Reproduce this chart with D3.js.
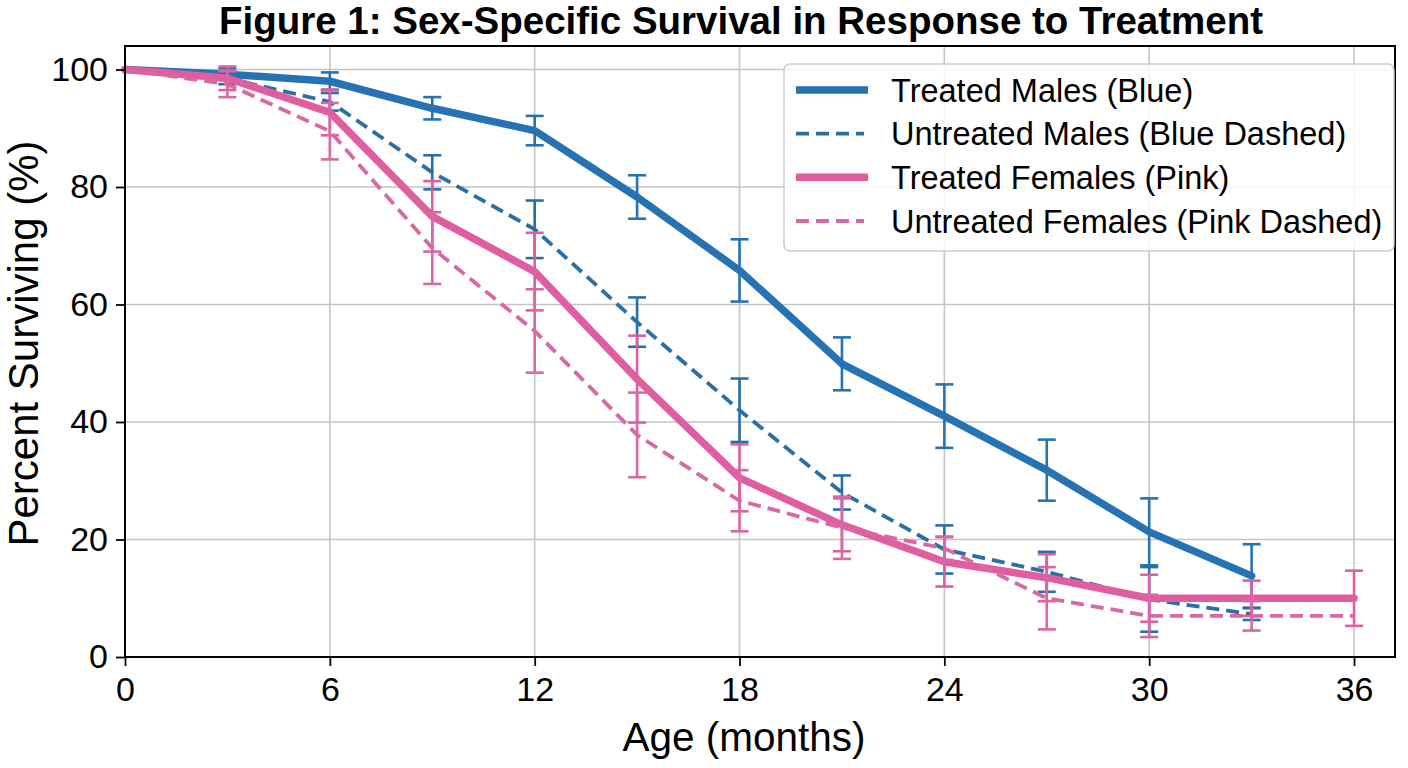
<!DOCTYPE html>
<html>
<head>
<meta charset="utf-8">
<script src="https://cdn.jsdelivr.net/npm/d3@7"></script>
<style>
  html, body { margin: 0; padding: 0; background: #ffffff; }
  svg { display: block; font-family: "Liberation Sans", Arial, Helvetica, sans-serif; }
</style>
</head>
<body>
<svg id="chart" width="1408" height="768"></svg>
<script>
// ---------- Data ----------
const monthsMales = [0, 3, 6, 9, 12, 15, 18, 21, 24, 27, 30, 33];
const monthsFemales = [0, 3, 6, 9, 12, 15, 18, 21, 24, 27, 30, 33, 36];

const treatedMales =      [100, 99.2, 98.0, 93.4, 89.6, 78.3, 65.8, 49.9, 41.0, 31.8, 21.3, 13.8];
const treatedMalesErr =   [0,   1.0,  1.5,  1.9,  2.5,  3.7,  5.3,  4.5,  5.4,  5.2,  5.7,  5.4];
const untreatedMales =    [100, 98.5, 94.5, 82.5, 72.8, 57.0, 42.0, 28.0, 18.3, 14.5, 9.8,  7.3];
const untreatedMalesErr = [0,   1.0,  1.5,  2.9,  4.9,  4.2,  5.4,  2.9,  4.1,  3.4,  5.5,  1.0];

const treatedFemales =      [100, 98.5, 92.7, 75.0, 65.6, 47.3, 30.5, 22.5, 16.2, 13.5, 10.0, 10.0, 10.0];
const treatedFemalesErr =   [0,   2.0,  3.9,  6.0,  6.6,  7.4,  5.7,  4.5,  4.2,  4.0,  4.0,  3.0,  4.7];
const untreatedFemales =    [100, 97.5, 89.5, 69.6, 55.5, 37.8, 26.6, 22.0, 18.5, 10.0, 7.0,  7.0,  7.0];
const untreatedFemalesErr = [0,   2.2,  4.8,  6.1,  7.1,  7.2,  5.2,  5.3,  2.0,  5.3,  3.6,  2.5,  0];

const seriesLabels = [
  "Treated Males (Blue)",
  "Untreated Males (Blue Dashed)",
  "Treated Females (Pink)",
  "Untreated Females (Pink Dashed)"
];
const xTickValues = [0, 6, 12, 18, 24, 30, 36];
const yTickValues = [0, 20, 40, 60, 80, 100];

const titleText = "Figure 1: Sex-Specific Survival in Response to Treatment";
const xLabelText = "Age (months)";
const yLabelText = "Percent Surviving (%)";

// ---------- Series table built from arrays ----------
const BLUE = "#2573b2", BLUE_D = "#2a6ea6", PINK = "#e05ea0", PINK_D = "#d768a4";
const series = [
  { label: seriesLabels[0], months: monthsMales,   vals: treatedMales,     errs: treatedMalesErr,     color: BLUE,   dashed: false },
  { label: seriesLabels[1], months: monthsMales,   vals: untreatedMales,   errs: untreatedMalesErr,   color: BLUE_D, dashed: true },
  { label: seriesLabels[2], months: monthsFemales, vals: treatedFemales,   errs: treatedFemalesErr,   color: PINK,   dashed: false },
  { label: seriesLabels[3], months: monthsFemales, vals: untreatedFemales, errs: untreatedFemalesErr, color: PINK_D, dashed: true }
];

// ---------- Layout ----------
const svg = d3.select("#chart");
const L = 125, R = 1395, T = 46, B = 657;
const x = d3.scaleLinear().domain([0, 37.2]).range([L, R]);
const y = d3.scaleLinear().domain([0, 104]).range([B, T]);

// Grid
const grid = svg.append("g");
grid.selectAll("line.gx").data(xTickValues).enter().append("line")
  .attr("x1", d => x(d)).attr("x2", d => x(d)).attr("y1", T).attr("y2", B)
  .attr("stroke", "#c4c4c4").attr("stroke-width", 1.6);
grid.selectAll("line.gy").data(yTickValues).enter().append("line")
  .attr("x1", L).attr("x2", R).attr("y1", d => y(d)).attr("y2", d => y(d))
  .attr("stroke", "#c4c4c4").attr("stroke-width", 1.6);

// Series
const lineGen = d3.line().x(d => x(d.m)).y(d => y(d.v));
series.forEach(s => {
  const pts = s.months.map((m, i) => ({ m: m, v: s.vals[i], e: s.errs[i] }));
  const g = svg.append("g");
  const bars = pts.filter(p => p.e > 0);
  g.selectAll("line.eb").data(bars).enter().append("line")
    .attr("x1", d => x(d.m)).attr("x2", d => x(d.m))
    .attr("y1", d => y(d.v - d.e)).attr("y2", d => y(d.v + d.e))
    .attr("stroke", s.color).attr("stroke-width", 2.6);
  [1, -1].forEach(sign => {
    g.selectAll("line.cap" + sign).data(bars).enter().append("line")
      .attr("x1", d => x(d.m) - 9).attr("x2", d => x(d.m) + 9)
      .attr("y1", d => y(d.v + sign * d.e)).attr("y2", d => y(d.v + sign * d.e))
      .attr("stroke", s.color).attr("stroke-width", 2.6);
  });
  g.append("path").datum(pts)
    .attr("d", lineGen)
    .attr("fill", "none")
    .attr("stroke", s.color)
    .attr("stroke-width", s.dashed ? 3.8 : 7.5)
    .attr("stroke-dasharray", s.dashed ? "13,7" : null)
    .attr("stroke-linejoin", "round")
    .attr("stroke-linecap", s.dashed ? "butt" : "round");
});

// Axes
const xAxis = svg.append("g").attr("transform", `translate(0,${B})`)
  .call(d3.axisBottom(x).tickValues(xTickValues).tickSize(9).tickPadding(11).tickFormat(d3.format("d")));
const yAxis = svg.append("g").attr("transform", `translate(${L},0)`)
  .call(d3.axisLeft(y).tickValues(yTickValues).tickSize(9).tickPadding(8).tickFormat(d3.format("d")));
[xAxis, yAxis].forEach(a => {
  a.select(".domain").remove();
  a.selectAll(".tick line").attr("stroke", "#000").attr("stroke-width", 1.8);
  a.selectAll(".tick text").attr("fill", "#000").style("font-size", "34px")
    .style("font-family", "'Liberation Sans', Arial, Helvetica, sans-serif");
});

// Frame
svg.append("rect").attr("x", L).attr("y", T).attr("width", R - L).attr("height", B - T)
  .attr("fill", "none").attr("stroke", "#000").attr("stroke-width", 2);

// Legend
const lg = svg.append("g");
lg.append("rect").attr("x", 784).attr("y", 64).attr("width", 610).attr("height", 187)
  .attr("rx", 6).attr("fill", "#fff").attr("fill-opacity", 0.85)
  .attr("stroke", "#cccccc").attr("stroke-width", 1.5);
const rowY = d3.scaleLinear().domain([0, 3]).range([90, 221]);
series.forEach((s, i) => {
  const yy = rowY(i);
  lg.append("line").attr("x1", 796).attr("x2", s.dashed ? 864 : 868).attr("y1", yy).attr("y2", yy)
    .attr("stroke", s.color).attr("stroke-width", s.dashed ? 3.8 : 7.5)
    .attr("stroke-dasharray", s.dashed ? "13,7" : null);
  lg.append("text").attr("x", 891).attr("y", yy).attr("dy", "0.36em")
    .style("font-size", "32.5px").attr("fill", "#000").text(s.label);
});

// Title and labels
svg.append("text").attr("x", 741).attr("y", 34).attr("text-anchor", "middle")
  .style("font-size", "38.5px").style("font-weight", "bold").attr("fill", "#000").text(titleText);
svg.append("text").attr("x", 744).attr("y", 751).attr("text-anchor", "middle")
  .style("font-size", "40.5px").attr("fill", "#000").text(xLabelText);
svg.append("text").attr("transform", `translate(38,${(T + B) / 2 - 8}) rotate(-90)`)
  .attr("text-anchor", "middle")
  .style("font-size", "42px").attr("fill", "#000").text(yLabelText);
</script>
</body>
</html>
